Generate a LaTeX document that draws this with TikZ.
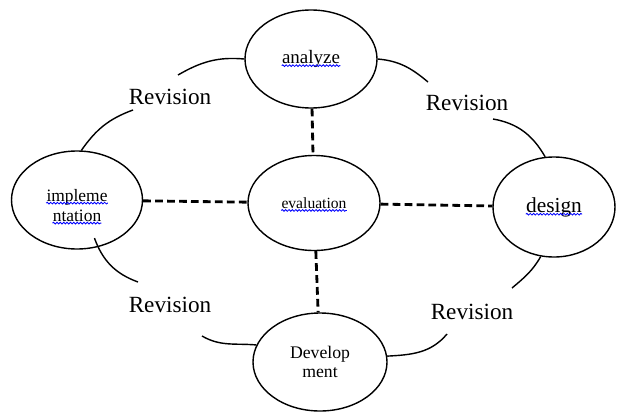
\documentclass[tikz,border=0pt]{standalone}
\usepackage{fontspec}
\setmainfont{Liberation Serif}
\usetikzlibrary{shapes.geometric, decorations.pathmorphing}

\tikzset{
  stage/.style={draw, ellipse, line width=1pt, minimum width=3.3cm, minimum height=2.45cm, inner sep=0pt},
  word/.style={inner sep=0pt},
  spell/.style={blue, line width=0.6pt, decorate, decoration={snake, segment length=2.4pt, amplitude=0.6pt}},
  link/.style={line width=2pt, dash pattern=on 5.5pt off 3pt},
  loopline/.style={line width=1pt},
  revlabel/.style={font=\fontsize{16.5}{19}\selectfont}
}

\begin{document}
\begin{tikzpicture}
    \useasboundingbox (0,0) rectangle (15.425,10.325);

    % stages
    \node[stage] (ana) at (7.775,8.85) {};
    \node[stage, minimum width=3.275cm] (impl) at (1.925,5.325) {};
    \node[stage, minimum height=2.375cm] (eval) at (7.85,5.25) {};
    \node[stage, minimum width=3.05cm, minimum height=2.5cm] (des) at (13.85,5.15) {};
    \node[stage, minimum width=3.35cm, align=center, font=\fontsize{12.6}{13.2}\selectfont] (dev) at (8.0,1.275) {Develop\\ment};

    % words with their spell marks
    \node[word, font=\fontsize{13.5}{16}\selectfont] (anaW) at (ana) {analyze};
    \node[word, anchor=base, font=\fontsize{12.4}{14}\selectfont] (implW1) at (1.925,5.3) {impleme};
    \node[word, anchor=base, font=\fontsize{12.4}{14}\selectfont] (implW2) at (1.925,4.8) {ntation};
    \node[word, font=\fontsize{11.1}{13}\selectfont] (evalW) at (eval) {evaluation};
    \node[word, font=\fontsize{15.2}{18}\selectfont] (desW) at (des) {design};
    \foreach \w in {anaW, implW1, implW2, evalW, desW}
        \draw[spell] ([yshift=-1.5pt]\w.base west) -- ([yshift=-1.5pt]\w.base east);

    % dashed links to evaluation
    \draw[link] (ana) -- (eval);
    \draw[link] (impl) -- (eval);
    \draw[link] (eval) -- (des);
    \draw[link] (eval) -- (dev);

    % revision labels
    \node[revlabel] (revTL) at (4.25,7.9) {Revision};
    \node[revlabel] (revTR) at (11.675,7.75) {Revision};
    \node[revlabel] (revBL) at (4.25,2.7) {Revision};
    \node[revlabel] (revBR) at (11.8,2.525) {Revision};

    % loose ends of the revision arcs
    \coordinate (tlA) at (4.45,8.45);
    \coordinate (tlB) at (3.325,7.575);
    \coordinate (trA) at (10.7,8.275);
    \coordinate (trB) at (12.325,7.35);
    \coordinate (blA) at (3.45,3.275);
    \coordinate (blB) at (5.05,1.925);
    \coordinate (brA) at (12.8,3.125);
    \coordinate (brB) at (11.175,1.975);

    % revision arcs
    \draw[loopline] (ana.west) to[out=175, in=30] (tlA);
    \draw[loopline] (impl.85) to[out=55, in=200] (tlB);
    \draw[loopline] (ana.east) to[out=-5, in=140] (trA);
    \draw[loopline] (trB) to[out=-10, in=120] (des.100);
    \draw[loopline] ([yshift=7pt]impl.-70) to[out=-70, in=160] (blA);
    \draw[loopline] (blB) to[out=-30, in=175] (dev.165);
    \draw[loopline] (des.-105) to[out=-120, in=40] (brA);
    \draw[loopline] (brB) to[out=-130, in=3] (dev.5);
\end{tikzpicture}
\end{document}
